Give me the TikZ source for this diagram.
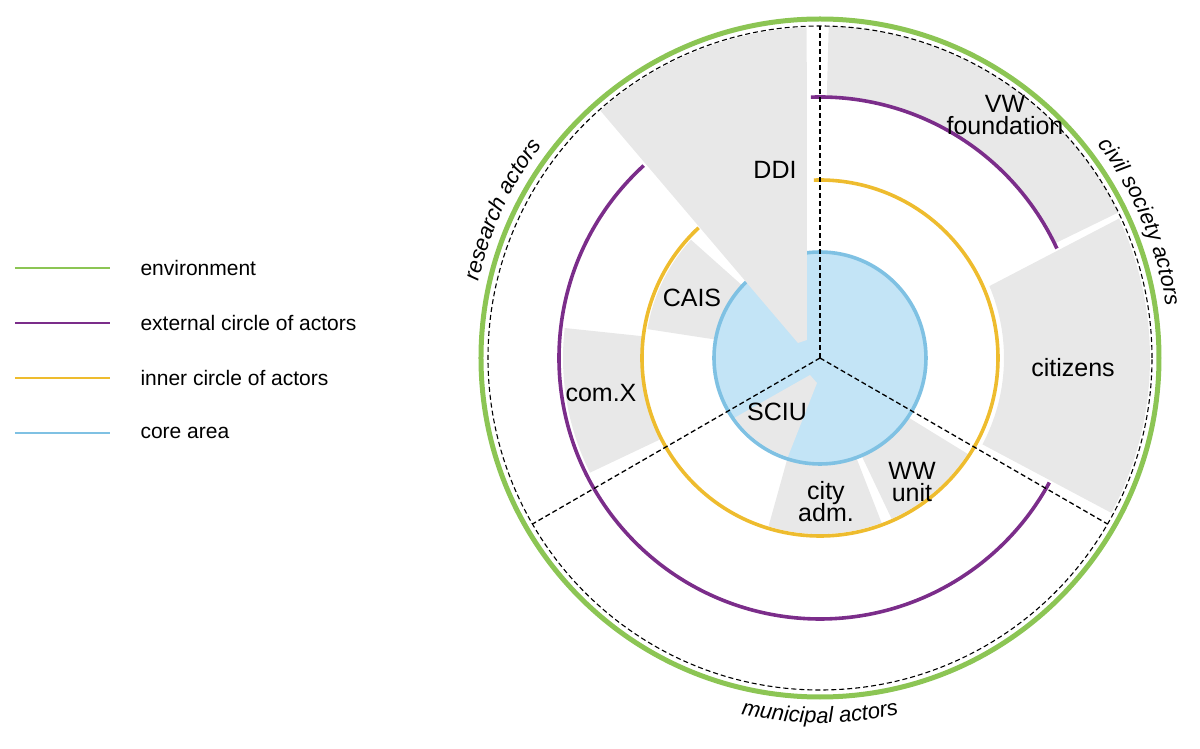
\documentclass[tikz,border=0pt]{standalone}
\usepackage{fontspec}
\setmainfont{Liberation Sans}
\usetikzlibrary{decorations.text}
\definecolor{cgreen}{HTML}{8CC554}
\definecolor{cpurple}{HTML}{7B2D8A}
\definecolor{cyellow}{HTML}{EEBC2E}
\definecolor{cbstroke}{HTML}{7FC1E3}
\definecolor{cbfill}{HTML}{C3E4F6}
\definecolor{cgray}{HTML}{E8E8E8}
\begin{document}
\begin{tikzpicture}[x=1pt,y=1pt,
  lab/.style={font=\fontsize{25}{26}\selectfont,align=center},
  leg/.style={font=\fontsize{21}{23}\selectfont,anchor=west},
  dashln/.style={black,line width=1.3pt,dash pattern=on 5pt off 3pt}]
\useasboundingbox (-820,-391) rectangle (380,358);
% gray sectors
\fill[cgray] (26:262) arc (26:88.5:262) -- (88.5:332) arc (88.5:26:332) -- cycle;
\fill[cgray] (-28:184) arc (-28:23:184) -- (25:330) arc (25:-28:330) -- cycle;
\fill[cgray] (137:106) arc (137:170:106) -- (170.5:175) arc (170.5:137.5:175) -- cycle;
\fill[cgray] (173:178) arc (173:207:178) -- (206.5:257) arc (206.5:173.3:257) -- cycle;
\fill[cgray] (252:104) arc (252:290:104) -- (290.5:176) arc (290.5:253:176) -- cycle;
\fill[cgray] (293:104) arc (293:326:104) -- (327:176) arc (327:294:176) -- cycle;
% core
\fill[cbfill] (0,0) circle (106);
\draw[cbstroke,line width=3.6pt] (0,0) circle (106);
\fill[cgray] (-10,-17) -- (-3,-25) -- (252:104) arc (252:215:104) -- cycle;
% rings
\draw[cpurple,line width=3.6pt] (24.8:261) arc (24.8:92:261);
\draw[cpurple,line width=3.6pt] (132.5:261) arc (132.5:331.5:261);
\draw[cyellow,line width=3.6pt] (133:178) arc (133:452:178);
\draw[cgreen,line width=5pt] (0,0) circle (339);
\draw[dashln,line width=1.1pt] (0,0) circle (332);
% DDI
\fill[cgray] (-22,15) -- (131.6:331) arc (131.6:92.3:331) -- (-13,18) -- cycle;
% sector dividers
\coordinate (c) at (0,0);
\coordinate (t) at (90:332);
\coordinate (l) at (210:332);
\coordinate (r) at (330:332);
\draw[dashln] (c) -- (t);
\draw[dashln] (c) -- (l);
\draw[dashln] (c) -- (r);
% labels
\node[lab] (ddi) at (-45,188) {DDI};
\node[lab] (vw) at (185,243) {VW\\[-4pt]foundation};
\node[lab] (cit) at (253,-10) {citizens};
\node[lab] (cais) at (-128,60) {CAIS};
\node[lab] (comx) at (-219,-35) {com.X};
\node[lab] (sciu) at (-43,-54) {SCIU};
\node[lab] (city) at (6,-144) {city\\[-4pt]adm.};
\node[lab] (ww) at (92,-124) {WW\\[-4pt]unit};
% curved labels
\path[decorate,decoration={text along path,text align=center,
  text={|\fontsize{22}{22}\selectfont\itshape|research actors}}] (174:350) arc (174:136:350);
\path[decorate,decoration={text along path,text align=center,
  text={|\fontsize{22}{22}\selectfont\itshape|civil society actors}}] (45:350) arc (45:1:350);
\path[decorate,decoration={text along path,text align=center,
  text={|\fontsize{22}{22}\selectfont\itshape|municipal actors}}] (248:365) arc (248:292:365);
% legend
\coordinate (g1) at (-805,90); \coordinate (g2) at (-710,90);
\coordinate (p1) at (-805,35); \coordinate (p2) at (-710,35);
\coordinate (y1) at (-805,-20); \coordinate (y2) at (-710,-20);
\coordinate (b1) at (-805,-75); \coordinate (b2) at (-710,-75);
\draw[cgreen,line width=2pt] (g1) -- (g2);
\draw[cpurple,line width=2pt] (p1) -- (p2);
\draw[cyellow,line width=2pt] (y1) -- (y2);
\draw[cbstroke,line width=2pt] (b1) -- (b2);
\node[leg] (lg) at (-683,90) {environment};
\node[leg] (lp) at (-683,35) {external circle of actors};
\node[leg] (ly) at (-683,-20) {inner circle of actors};
\node[leg] (lb) at (-683,-75) {core area};
\end{tikzpicture}
\end{document}
